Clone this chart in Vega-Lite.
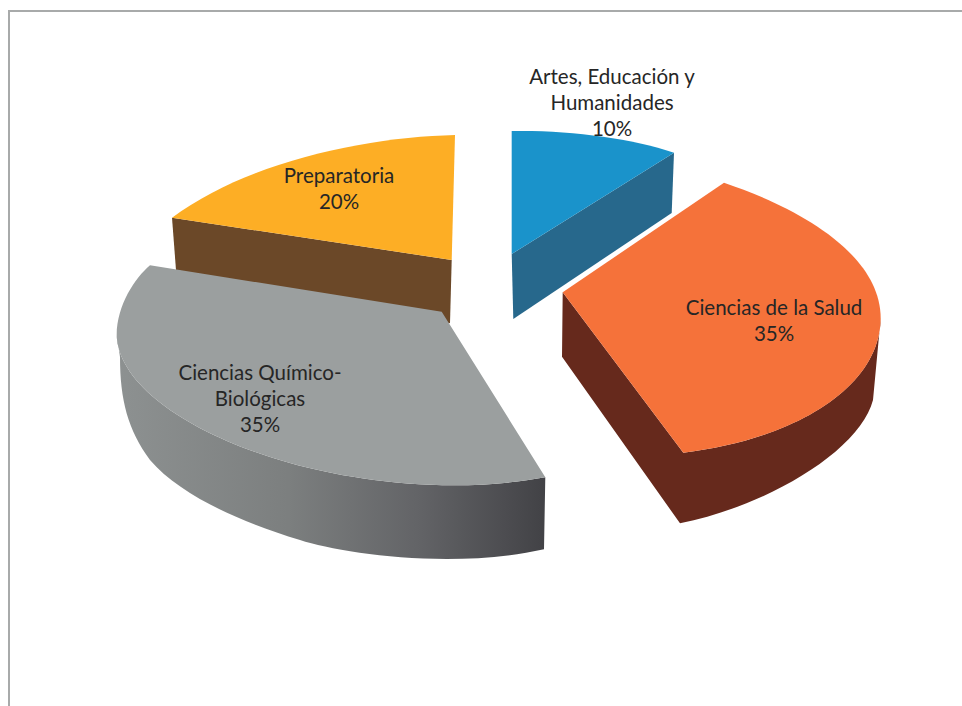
{
  "$schema": "https://vega.github.io/schema/vega-lite/v6.json",
  "width": 952,
  "height": 694,
  "padding": {"left": 9, "top": 12, "right": 1, "bottom": 0},
  "autosize": {"type": "none"},
  "background": "white",
  "view": {"stroke": null},
  "data": {"values": [
    {"categoria": "Preparatoria", "porcentaje": 20, "etiqueta": "Preparatoria\n20%"},
    {"categoria": "Artes, Educación y Humanidades", "porcentaje": 10, "etiqueta": "Artes, Educación y\nHumanidades\n10%"},
    {"categoria": "Ciencias Químico-Biológicas", "porcentaje": 35, "etiqueta": "Ciencias Químico-\nBiológicas\n35%"},
    {"categoria": "Ciencias de la Salud", "porcentaje": 35, "etiqueta": "Ciencias de la Salud\n35%"}
  ]},
  "resolve": {"scale": {"color": "independent", "shape": "independent"}},
  "layer": [
    {
      "transform": [{"filter": "datum.categoria === 'Preparatoria'"}],
      "mark": {"type": "point", "filled": false, "opacity": 1, "size": 4, "stroke": "#a8aaaa", "strokeWidth": 2, "shape": "M-476,347 L-476,-348 L477,-348"},
      "encoding": {}
    },
    {
      "transform": [{"filter": "datum.categoria !== 'Ciencias Químico-Biológicas'"}],
      "mark": {"type": "point", "filled": true, "opacity": 1, "size": 4},
      "encoding": {
        "shape": {"field": "categoria", "type": "nominal", "legend": null, "scale": {
          "domain": ["Preparatoria", "Artes, Educación y Humanidades", "Ciencias de la Salud"],
          "range": [
            "M-313,-141.3 L-33.3,-99 L-35,-35.7 L-309,-89 Z",
            "M26.7,-105 L189,-206.3 L186.7,-146 L28.3,-40 Z",
            "M77.7,-66.7 L198.3,93.7 C305,81 395,31 395.7,-41 L388,41 C375,91 285,146 195,164.3 L77,-2.3 Z"
          ]
        }},
        "color": {"field": "categoria", "type": "nominal", "legend": null, "scale": {
          "domain": ["Preparatoria", "Artes, Educación y Humanidades", "Ciencias de la Salud"],
          "range": ["#6b4828", "#27688c", "#66291c"]
        }}
      }
    },
    {
      "transform": [{"filter": "datum.categoria === 'Ciencias Químico-Biológicas'"}],
      "mark": {
        "type": "point", "filled": true, "opacity": 1, "size": 4,
        "shape": "M-368.3,-24 C-367,26 -295,76 -195,104 C-135,121 -35,136 60.3,118.3 L59,190.3 C-35,211 -145,194 -185,181 C-245,163 -305,136 -335,101 C-357,71 -365,41 -365,-2 Z",
        "fill": {"gradient": "linear", "x1": 0, "y1": 0, "x2": 1, "y2": 0, "stops": [
          {"offset": 0, "color": "#8d9191"},
          {"offset": 0.4, "color": "#7c7f7f"},
          {"offset": 0.7, "color": "#636467"},
          {"offset": 1, "color": "#424246"}
        ]}
      },
      "encoding": {}
    },
    {
      "mark": {"type": "point", "filled": true, "opacity": 1, "size": 4},
      "encoding": {
        "shape": {"field": "categoria", "type": "nominal", "legend": null, "scale": {
          "domain": ["Preparatoria", "Artes, Educación y Humanidades", "Ciencias Químico-Biológicas", "Ciencias de la Salud"],
          "range": [
            "M-30,-224 C-115,-222 -235,-199 -313,-141.3 L-33.3,-99 Z",
            "M26.7,-228 C85,-229 145,-221 189,-206.3 L26.7,-105 Z",
            "M-335,-93.7 C-350,-81 -368,-54 -368.3,-24 C-367,26 -295,76 -195,104 C-135,121 -35,136 60.3,118.3 L-43.3,-47.3 Z",
            "M239,-176.3 C305,-154 395,-109 395.7,-41 C395,31 305,81 198.3,93.7 L77.7,-66.7 Z"
          ]
        }},
        "color": {"field": "categoria", "type": "nominal", "legend": null, "scale": {
          "domain": ["Preparatoria", "Artes, Educación y Humanidades", "Ciencias Químico-Biológicas", "Ciencias de la Salud"],
          "range": ["#fdae25", "#1a93cb", "#9b9f9f", "#f5723a"]
        }}
      }
    },
    {
      "transform": [{"filter": "datum.categoria === 'Preparatoria'"}],
      "mark": {"type": "text", "font": "Lato", "fontSize": 20.5, "lineHeight": 26, "lineBreak": "\n", "align": "center", "baseline": "middle", "color": "#262626", "dx": -146, "dy": -182},
      "encoding": {"text": {"field": "etiqueta"}}
    },
    {
      "transform": [{"filter": "datum.categoria === 'Artes, Educación y Humanidades'"}],
      "mark": {"type": "text", "font": "Lato", "fontSize": 20.5, "lineHeight": 26, "lineBreak": "\n", "align": "center", "baseline": "middle", "color": "#262626", "dx": 127, "dy": -281},
      "encoding": {"text": {"field": "etiqueta"}}
    },
    {
      "transform": [{"filter": "datum.categoria === 'Ciencias Químico-Biológicas'"}],
      "mark": {"type": "text", "font": "Lato", "fontSize": 20.5, "lineHeight": 26, "lineBreak": "\n", "align": "center", "baseline": "middle", "color": "#262626", "dx": -225, "dy": 15},
      "encoding": {"text": {"field": "etiqueta"}}
    },
    {
      "transform": [{"filter": "datum.categoria === 'Ciencias de la Salud'"}],
      "mark": {"type": "text", "font": "Lato", "fontSize": 20.5, "lineHeight": 26, "lineBreak": "\n", "align": "center", "baseline": "middle", "color": "#262626", "dx": 289, "dy": -50},
      "encoding": {"text": {"field": "etiqueta"}}
    }
  ]
}
